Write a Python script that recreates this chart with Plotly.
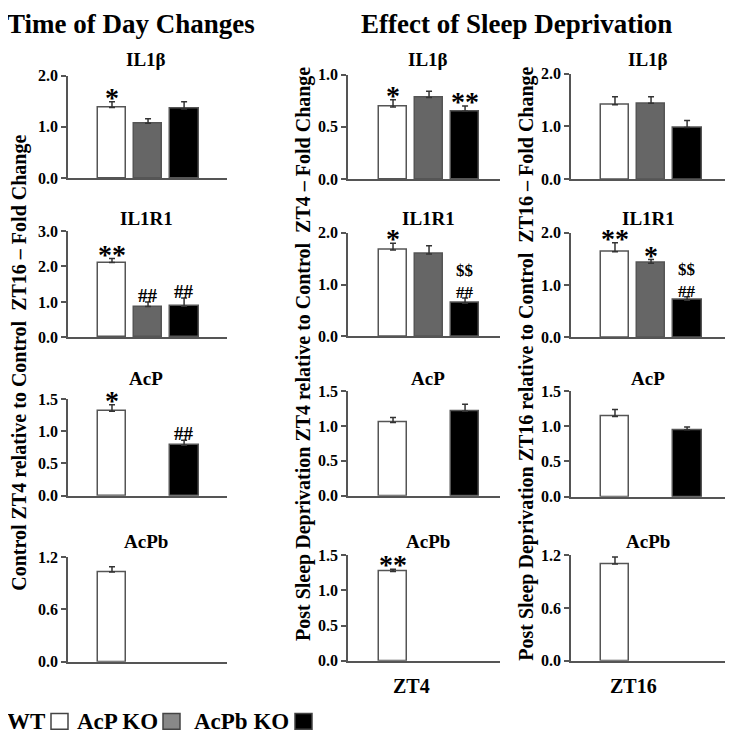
import plotly.graph_objects as go

genes = ["IL1β", "IL1R1", "AcP", "AcPb"]
groups = ["WT", "AcP KO", "AcPb KO"]

# ---- Time of Day Changes (Control ZT4 relative to Control ZT16) ----
tod_wt = [1.38, 2.11, 1.31, 1.03]
tod_wt_err = [0.11, 0.11, 0.10, 0.06]
tod_wt_sig = ["*", "**", "*", ""]
tod_acp = [1.07, 0.87, None, None]
tod_acp_err = [0.09, 0.13, None, None]
tod_acp_sig = ["", "##", "", ""]
tod_acpb = [1.35, 0.88, 0.78, None]
tod_acpb_err = [0.14, 0.23, 0.08, None]
tod_acpb_sig = ["", "##", "##", ""]

# ---- Effect of Sleep Deprivation, ZT4 ----
zt4_wt = [0.69, 1.67, 1.05, 1.27]
zt4_wt_err = [0.07, 0.13, 0.07, 0.03]
zt4_wt_sig = ["*", "*", "", "**"]
zt4_acp = [0.78, 1.59, None, None]
zt4_acp_err = [0.06, 0.16, None, None]
zt4_acp_sig = ["", "", "", ""]
zt4_acpb = [0.65, 0.64, 1.21, None]
zt4_acpb_err = [0.05, 0.10, 0.10, None]
zt4_acpb_sig = ["**", "$$<br>##", "", ""]

# ---- Effect of Sleep Deprivation, ZT16 ----
zt16_wt = [1.41, 1.64, 1.14, 1.10]
zt16_wt_err = [0.15, 0.17, 0.10, 0.08]
zt16_wt_sig = ["", "**", "", ""]
zt16_acp = [1.44, 1.42, None, None]
zt16_acp_err = [0.12, 0.07, None, None]
zt16_acp_sig = ["", "*", "", ""]
zt16_acpb = [0.98, 0.71, 0.95, None]
zt16_acpb_err = [0.13, 0.07, 0.04, None]
zt16_acpb_sig = ["", "$$<br>##", "", ""]

# y-axis maxima and tick steps
tod_ymax = [2.0, 3.0, 1.5, 1.2]
tod_dtick = [1.0, 1.0, 0.5, 0.6]
zt4_ymax = [1.0, 2.0, 1.5, 1.5]
zt4_dtick = [0.5, 1.0, 0.5, 0.5]
zt16_ymax = [2.0, 2.0, 1.5, 1.2]
zt16_dtick = [1.0, 1.0, 0.5, 0.6]

ylabels = [
    "Control ZT4 relative to Control\u00a0 ZT16 \u2013 Fold Change",
    "Post Sleep Deprivation ZT4 relative to Control\u00a0 ZT4 \u2013 Fold Change",
    "Post Sleep Deprivation ZT16 relative to Control\u00a0 ZT16 \u2013 Fold Change",
]
headers = ["Time of Day Changes", "Effect of Sleep Deprivation"]
xlabels = ["ZT4", "ZT16"]

colors = ["#ffffff", "#666666", "#000000"]

VW, VH = 733, 744          # browser window
OFF = 8                    # default page margin around the figure
W, H = VW - OFF, VH - OFF  # figure size
FONT = "Liberation Serif"
AX = "#555555"


def px(x):
    # window pixel -> paper fraction
    return (x - OFF) / W


def py(y):
    return 1 - (y - OFF) / H


columns = [
    ([tod_wt, tod_acp, tod_acpb], [tod_wt_err, tod_acp_err, tod_acpb_err],
     [tod_wt_sig, tod_acp_sig, tod_acpb_sig], tod_ymax, tod_dtick),
    ([zt4_wt, zt4_acp, zt4_acpb], [zt4_wt_err, zt4_acp_err, zt4_acpb_err],
     [zt4_wt_sig, zt4_acp_sig, zt4_acpb_sig], zt4_ymax, zt4_dtick),
    ([zt16_wt, zt16_acp, zt16_acpb], [zt16_wt_err, zt16_acp_err, zt16_acpb_err],
     [zt16_wt_sig, zt16_acp_sig, zt16_acpb_sig], zt16_ymax, zt16_dtick),
]

col_x = [(68, 227), (348, 500), (571, 730)]
col_xrange = [(-1.22, 3.19), (-1.25, 2.97), (-1.22, 3.19)]
col_rows = [
    [(69, 174), (228, 337), (400, 499), (562, 669)],
    [(68, 175), (230, 336), (392, 499), (560, 668)],
    [(67, 175), (230, 337), (392, 500), (560, 668)],
]
title_y = [53, 215, 379, 546]
title_x = [146, 428, 648]

fig = go.Figure()
annotations = []
layout_axes = {}

for c, (means, errs, sigs, ymaxs, dticks) in enumerate(columns):
    for r in range(4):
        i = r * 3 + c + 1
        xa = f"x{i}"
        ya = f"y{i}"
        xs, ys, es, cs = [], [], [], []
        for g in range(3):
            v = means[g][r]
            if v is None:
                continue
            xs.append(g)
            ys.append(v)
            es.append(errs[g][r])
            cs.append(colors[g])
        fig.add_trace(go.Bar(
            x=xs, y=ys, width=0.8, xaxis=xa, yaxis=ya,
            marker=dict(color=cs, line=dict(color=AX, width=1.5)),
            error_y=dict(type="data", symmetric=False, array=es,
                         arrayminus=[0] * len(es), color="#333333",
                         thickness=1.5, width=3),
            showlegend=False, hoverinfo="skip",
        ))
        # significance markers
        for g in range(3):
            s = sigs[g][r]
            if not s:
                continue
            top = means[g][r] + errs[g][r]
            if s.startswith("*"):
                fs, ysh = 28, -12
            elif "<br>" in s:
                fs, ysh = 17, -5
            else:
                fs, ysh = 19, -5
            annotations.append(dict(
                x=g, y=top, xref=xa, yref=ya, text=s, showarrow=False,
                yanchor="bottom", xanchor="center", yshift=ysh,
                borderpad=0,
                font=dict(family=FONT, size=fs, color="#000", weight="bold"),
            ))
        x0, x1 = col_x[c]
        y0, y1 = col_rows[c][r]
        ymax, dt = ymaxs[r], dticks[r]
        n = int(round(ymax / dt))
        tv = [round(k * dt, 2) for k in range(n + 1)]
        key = "" if i == 1 else str(i)
        layout_axes["xaxis" + key] = dict(
            domain=[px(x0), min(px(x1), 1.0)], anchor=ya,
            range=list(col_xrange[c]),
            showline=True, linecolor=AX, linewidth=1.5, showgrid=False,
            zeroline=False, showticklabels=False, ticks="", fixedrange=True,
        )
        layout_axes["yaxis" + key] = dict(
            domain=[py(y1), py(y0)], anchor=xa, range=[0, ymax],
            showline=True, linecolor=AX, linewidth=1.5, showgrid=False,
            zeroline=False, ticks="outside", ticklen=5, tickcolor=AX,
            tickwidth=1.5, tickvals=tv, ticktext=[f"{t:.1f}" for t in tv],
            tickfont=dict(family=FONT, size=16, color="#000", weight="bold"),
            fixedrange=True,
        )
        annotations.append(dict(
            x=px(title_x[c]), y=py(title_y[r]), xref="paper", yref="paper",
            text=genes[r], showarrow=False, xanchor="center", yanchor="middle",
            font=dict(family=FONT, size=19, color="#000", weight="bold"),
        ))

# y-axis titles
ylab_pos = [(20, 363), (303, 354), (527, 364)]
for (x, y), t in zip(ylab_pos, ylabels):
    annotations.append(dict(
        x=px(x), y=py(y), xref="paper", yref="paper", text=t, textangle=-90,
        showarrow=False, xanchor="center", yanchor="middle",
        font=dict(family=FONT, size=20, color="#000", weight="bold"),
    ))

# headers
for x, t in zip([131, 516], headers):
    annotations.append(dict(
        x=px(x), y=py(16), xref="paper", yref="paper", text=t, showarrow=False,
        xanchor="center", yanchor="middle",
        font=dict(family=FONT, size=27, color="#000", weight="bold"),
    ))

# bottom x labels
for x, t in zip([412, 633], xlabels):
    annotations.append(dict(
        x=px(x), y=py(694), xref="paper", yref="paper", text=t, showarrow=False,
        xanchor="center", yanchor="middle",
        font=dict(family=FONT, size=20, color="#000", weight="bold"),
    ))

# legend
leg_text_x = [26, 117, 241]
leg_box_x = [51, 163, 295]
shapes = []
for g in range(3):
    annotations.append(dict(
        x=px(leg_text_x[g]), y=py(730), xref="paper", yref="paper",
        text=groups[g], showarrow=False, xanchor="center", yanchor="middle",
        font=dict(family=FONT, size=23, color="#000", weight="bold"),
    ))
    bx = leg_box_x[g]
    shapes.append(dict(
        type="rect", xref="paper", yref="paper",
        x0=px(bx), x1=px(bx + 17), y0=py(738), y1=py(722),
        fillcolor=colors[g] if g != 1 else "#888888",
        line=dict(color="#444444", width=1.5),
    ))

fig.update_layout(
    width=W, height=H, margin=dict(l=0, r=0, t=0, b=0),
    paper_bgcolor="#ffffff", plot_bgcolor="#ffffff",
    annotations=annotations, shapes=shapes, bargap=0,
    **layout_axes,
)

fig.write_html("out.html")
